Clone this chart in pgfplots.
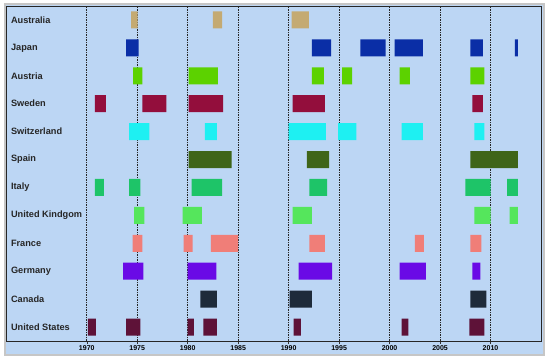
\documentclass[border=0pt]{standalone}
\usepackage{pgfplots}
\pgfplotsset{compat=1.18}
\usepackage{fontspec}
\setmainfont{Liberation Sans}
\definecolor{bgblue}{HTML}{BCD6F4}
\definecolor{cAus}{HTML}{C4AA72}
\definecolor{cJap}{HTML}{0A2EA6}
\definecolor{cAut}{HTML}{5CD200}
\definecolor{cSwe}{HTML}{930E3C}
\definecolor{cSwi}{HTML}{1EF0F2}
\definecolor{cSpa}{HTML}{3F6518}
\definecolor{cIta}{HTML}{1EC468}
\definecolor{cUK}{HTML}{55E65C}
\definecolor{cFra}{HTML}{F07E78}
\definecolor{cGer}{HTML}{6A0AE6}
\definecolor{cCan}{HTML}{1E2B3A}
\definecolor{cUS}{HTML}{5E1238}
\newcommand\rb[4]{%
  \pgfmathsetmacro\ylo{#3-0.305}\pgfmathsetmacro\yhi{#3+0.305}%
  \edef\temp{\noexpand\addplot[fill=#4,draw=none,forget plot] coordinates {(#1,\ylo) (#2,\ylo) (#2,\yhi) (#1,\yhi) (#1,\ylo)};}%
  \temp}
\begin{document}
\begin{tikzpicture}[x=1pt,y=1pt]
\path (0,0) rectangle (555,358);
\draw[fill=bgblue,draw=gray!45,line width=2pt] (5,3) rectangle (544,354);
\begin{axis}[
  at={(6pt,17pt)}, anchor=south west,
  scale only axis, width=535pt, height=335pt,
  xmin=1962, xmax=2015, ymin=-0.5, ymax=11.5,
  axis line style={black!85, line width=0.8pt},
  xtick={1970,1975,...,2010},
  xtick pos=bottom, tick align=outside,
  major tick length=3pt,
  xtick style={black!80, line width=0.5pt},
  xmajorgrids, grid style={black!85, dash pattern=on 1.5pt off 1pt, line width=0.6pt},
  x tick label style={/pgf/number format/1000 sep={}, font=\fontsize{7}{8}\selectfont\bfseries, inner sep=1pt},
  /pgf/number format/assume math mode=true,
  ytick={0,...,11},
  yticklabels={United States,Canada,Germany,France,United Kindgom,Italy,Spain,Switzerland,Sweden,Austria,Japan,Australia},
  ytick style={draw=none},
  y tick label style={anchor=west, xshift=4.5pt, font=\fontsize{9.2}{11}\selectfont\bfseries, black!85},
]
% Australia 11
\rb{1974.4}{1975.05}{11}{cAus}
\rb{1982.5}{1983.4}{11}{cAus}
\rb{1990.3}{1992.0}{11}{cAus}
% Japan 10
\rb{1973.9}{1975.15}{10}{cJap}
\rb{1992.3}{1994.2}{10}{cJap}
\rb{1997.1}{1999.6}{10}{cJap}
\rb{2000.5}{2003.3}{10}{cJap}
\rb{2008.0}{2009.25}{10}{cJap}
\rb{2012.4}{2012.7}{10}{cJap}
% Austria 9
\rb{1974.6}{1975.5}{9}{cAut}
\rb{1980.1}{1983.0}{9}{cAut}
\rb{1992.3}{1993.5}{9}{cAut}
\rb{1995.3}{1996.3}{9}{cAut}
\rb{2001.0}{2002.0}{9}{cAut}
\rb{2008.0}{2009.4}{9}{cAut}
% Sweden 8
\rb{1970.8}{1971.9}{8}{cSwe}
\rb{1975.5}{1977.9}{8}{cSwe}
\rb{1980.1}{1983.5}{8}{cSwe}
\rb{1990.4}{1993.6}{8}{cSwe}
\rb{2008.2}{2009.25}{8}{cSwe}
% Switzerland 7
\rb{1974.2}{1976.2}{7}{cSwi}
\rb{1981.7}{1982.9}{7}{cSwi}
\rb{1990.0}{1993.7}{7}{cSwi}
\rb{1994.9}{1996.7}{7}{cSwi}
\rb{2001.2}{2003.3}{7}{cSwi}
\rb{2008.4}{2009.4}{7}{cSwi}
% Spain 6
\rb{1980.1}{1984.35}{6}{cSpa}
\rb{1991.8}{1994.0}{6}{cSpa}
\rb{2008.0}{2012.7}{6}{cSpa}
% Italy 5
\rb{1970.8}{1971.7}{5}{cIta}
\rb{1974.2}{1975.3}{5}{cIta}
\rb{1980.4}{1983.4}{5}{cIta}
\rb{1992.05}{1993.8}{5}{cIta}
\rb{2007.5}{2010.0}{5}{cIta}
\rb{2011.65}{2012.7}{5}{cIta}
% UK 4
\rb{1974.7}{1975.7}{4}{cUK}
\rb{1979.5}{1981.4}{4}{cUK}
\rb{1990.4}{1992.3}{4}{cUK}
\rb{2008.4}{2010.0}{4}{cUK}
\rb{2011.9}{2012.7}{4}{cUK}
% France 3
\rb{1974.55}{1975.5}{3}{cFra}
\rb{1979.6}{1980.5}{3}{cFra}
\rb{1982.3}{1985.0}{3}{cFra}
\rb{1992.05}{1993.6}{3}{cFra}
\rb{2002.5}{2003.4}{3}{cFra}
\rb{2008.0}{2009.1}{3}{cFra}
% Germany 2
\rb{1973.6}{1975.6}{2}{cGer}
\rb{1980.0}{1982.85}{2}{cGer}
\rb{1991.0}{1994.3}{2}{cGer}
\rb{2001.0}{2003.6}{2}{cGer}
\rb{2008.2}{2009.0}{2}{cGer}
% Canada 1
\rb{1981.25}{1982.9}{1}{cCan}
\rb{1990.1}{1992.3}{1}{cCan}
\rb{2008.0}{2009.6}{1}{cCan}
% US 0
\rb{1970.1}{1970.9}{0}{cUS}
\rb{1973.9}{1975.3}{0}{cUS}
\rb{1980.0}{1980.6}{0}{cUS}
\rb{1981.55}{1982.9}{0}{cUS}
\rb{1990.5}{1991.2}{0}{cUS}
\rb{2001.2}{2001.85}{0}{cUS}
\rb{2007.9}{2009.4}{0}{cUS}
\end{axis}
\end{tikzpicture}
\end{document}
